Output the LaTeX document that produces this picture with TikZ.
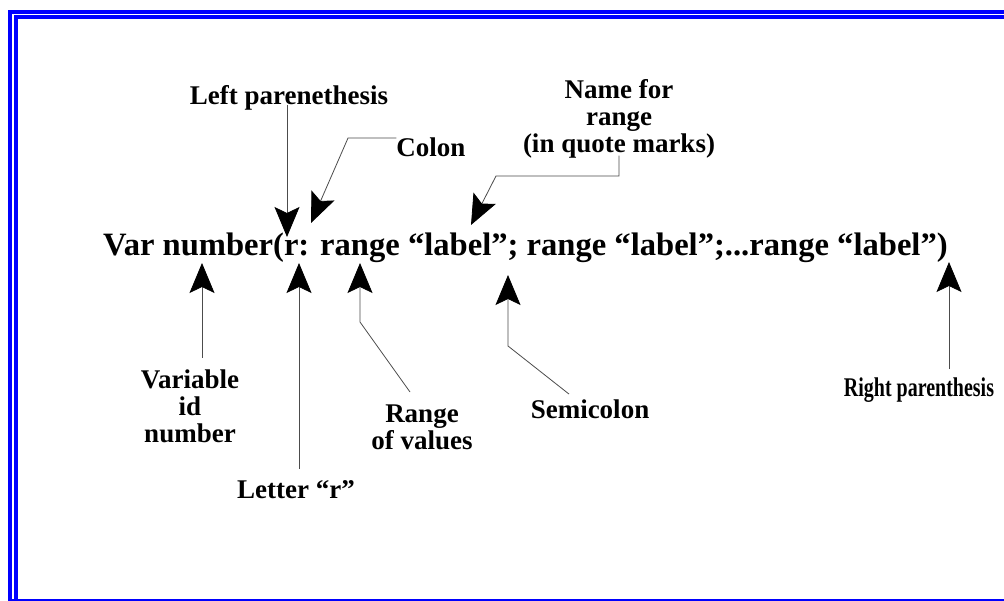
\documentclass[tikz,border=0pt]{standalone}
\usepackage{graphicx}
\usepackage{fontspec}
\setmainfont{Liberation Serif}
\usetikzlibrary{arrows.meta}
% squeeze or widen a piece of text horizontally
\newcommand{\hstretch}[2][1]{\scalebox{#1}[1]{#2}}
\begin{document}
\begin{tikzpicture}[x=1pt,y=-1pt,
  lab/.style={inner sep=0pt, font=\fontsize{27}{27}\selectfont\bfseries},
  expr/.style={inner sep=0pt, font=\fontsize{32.6}{36}\selectfont\bfseries},
  arr/.style={draw=black!70, line width=0.8pt,
    -{Stealth[length=30pt,width=25pt,inset=6pt,color=black]}},
  rule/.style={draw=blue, line width=#1}]
\useasboundingbox (0,0) rectangle (1004,601);
\fill[white] (0,0) rectangle (1004,601);

% double frame on the left and top, single rule at the bottom
\draw[rule=4pt] (10,610) -- (10,12) -- (1010,12);
\draw[rule=4pt] (16,610) -- (16,17) -- (1010,17);
\draw[rule=1.5pt] (8,600) -- (1010,600);

% the declaration being explained
\node[expr, anchor=base west] (expr) at (103,256)
  {Var number(r: range “label”; range “label”;...range “label”)};

% labels
\node[lab, anchor=base] (lp) at (289,105) {Left parenethesis};
\node[lab, anchor=base] (colon) at (431,157) {Colon};
\node[lab, anchor=north] (name) at (619,79)
  {\begin{tabular}{@{}c@{}}Name for\\range\\(in quote marks)\end{tabular}};
\node[lab, anchor=north] (var) at (190,369)
  {\begin{tabular}{@{}c@{}}Variable\\id\\number\end{tabular}};
\node[lab, anchor=base] (letr) at (296,498) {Letter “r”};
\node[lab, anchor=north] (rng) at (422,403)
  {\begin{tabular}{@{}c@{}}Range\\of values\end{tabular}};
\node[lab, anchor=base] (semi) at (590,419) {Semicolon};
\node[lab, anchor=base] (rp) at (919,396) {\hstretch[0.74]{Right parenthesis}};

% arrow tips on the declaration and bend points
\coordinate (tLP) at (287,237);
\coordinate (tC)  at (311,223);
\coordinate (tN)  at (471,225);
\coordinate (tV)  at (202,263);
\coordinate (tR)  at (299,263);
\coordinate (tRg) at (360,263);
\coordinate (tS)  at (508,275);
\coordinate (tRP) at (949,262);
\coordinate (cB)  at (348,140);
\coordinate (nB)  at (496,176);
\coordinate (rgB) at (360,322);
\coordinate (sB)  at (508,346);

% connectors
\draw[arr] (lp.base -| tLP) -- (tLP);
\draw[arr] (colon.north west) -- (colon.north west -| cB) -- (tC);
\draw[arr] ([yshift=5pt]name.south) |- (nB) -- (tN);
\draw[arr] ([yshift=11pt]var.north -| tV) -- (tV);
\draw[arr] ([yshift=11pt]letr.north -| tR) -- (tR);
\draw[arr] ([xshift=-12pt,yshift=11pt]rng.north) -- (rgB) -- (tRg);
\draw[arr] ([xshift=-21pt,yshift=6pt]semi.north) -- (sB) -- (tS);
\draw[arr] ([yshift=8pt]rp.north -| tRP) -- (tRP);
\end{tikzpicture}
\end{document}
